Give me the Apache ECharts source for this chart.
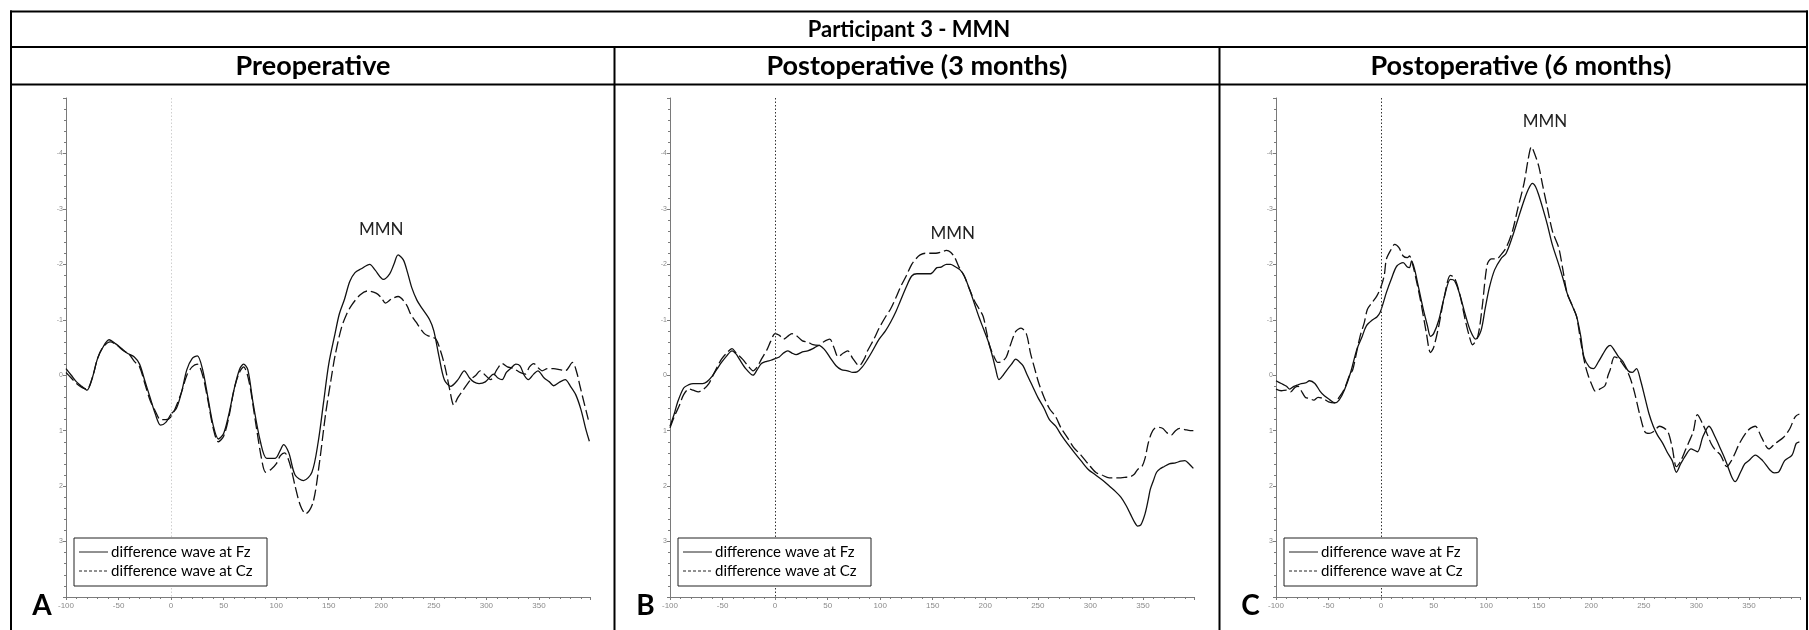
<!DOCTYPE html>
<html>
<head>
<meta charset="utf-8">
<script src="https://cdn.jsdelivr.net/npm/echarts/dist/echarts.min.js"></script>
<style>
html,body{margin:0;padding:0;background:#fff;}
#chart{width:1809px;height:630px;}
</style>
</head>
<body>
<div id="chart"></div>
<script>
// ---------- DATA ----------
const mainTitle = "Participant 3 - MMN";
const panelTitles = ["Preoperative", "Postoperative (3 months)", "Postoperative (6 months)"];
const panelLetters = ["A", "B", "C"];
const legendNames = ["difference wave at Fz", "difference wave at Cz"];
const xTicks = [-100, -50, 0, 50, 100, 150, 200, 250, 300, 350];
const yTicks = [-4, -3, -2, -1, 0, 1, 2, 3];
const mmnA = [200, -2.62];
const mmnB = [169, -2.56];
const mmnC = [156, -4.57];

const fzA = [[-100,-0.12],[-95,0.0],[-90,0.12],[-85,0.2],[-80,0.27],[-75,0.05],[-70,-0.3],[-65,-0.5],[-59,-0.64],[-53,-0.57],[-47,-0.48],[-42,-0.4],[-35,-0.33],[-30,-0.2],[-25,0.1],[-20,0.4],[-15,0.7],[-10,0.9],[-5,0.85],[0,0.7],[5,0.6],[10,0.3],[15,-0.1],[20,-0.3],[25,-0.35],[30,-0.1],[35,0.4],[40,0.9],[45,1.15],[50,1.05],[55,0.7],[60,0.25],[65,-0.1],[69,-0.2],[73,-0.1],[78,0.5],[85,1.2],[91,1.5],[99,1.5],[104,1.35],[107,1.25],[112,1.4],[118,1.8],[126,1.9],[134,1.75],[140,1.2],[145,0.5],[150,-0.2],[156,-0.75],[160,-1.1],[165,-1.37],[170,-1.69],[175,-1.85],[181,-1.92],[189,-2.0],[194,-1.9],[202,-1.73],[208,-1.83],[212,-2.0],[216,-2.17],[221,-2.08],[225,-1.85],[229,-1.58],[234,-1.35],[239,-1.2],[246,-1.0],[250,-0.8],[255,-0.33],[260,0.08],[266,0.2],[273,0.08],[279,-0.08],[284,0.05],[288,0.12],[293,0.15],[299,0.12],[307,-0.02],[311,0.05],[315,0.08],[319,-0.05],[323,-0.12],[328,-0.2],[332,-0.17],[336,0.0],[340,0.08],[345,-0.02],[349,-0.08],[355,0.05],[360,0.12],[364,0.19],[370,0.12],[375,0.08],[380,0.2],[385,0.35],[390,0.62],[395,1.0],[398,1.19]];
const czA = [[-100,-0.05],[-95,0.05],[-90,0.15],[-85,0.22],[-80,0.25],[-75,0.05],[-70,-0.3],[-65,-0.5],[-58,-0.6],[-52,-0.55],[-46,-0.45],[-40,-0.38],[-35,-0.25],[-30,-0.15],[-25,0.15],[-20,0.45],[-15,0.65],[-10,0.8],[-5,0.8],[0,0.75],[5,0.55],[10,0.3],[15,0.0],[20,-0.15],[25,-0.2],[30,0.0],[35,0.45],[40,0.95],[45,1.2],[50,1.1],[55,0.75],[60,0.25],[65,-0.05],[69,-0.15],[74,0.1],[80,0.8],[86,1.5],[90,1.75],[95,1.7],[100,1.6],[104,1.45],[108,1.4],[113,1.6],[118,2.0],[123,2.35],[128,2.5],[135,2.3],[141,1.6],[147,0.7],[152,0.1],[156,-0.35],[162,-0.85],[167,-1.1],[172,-1.27],[180,-1.45],[187,-1.52],[195,-1.48],[200,-1.4],[204,-1.3],[210,-1.38],[216,-1.42],[224,-1.27],[228,-1.1],[233,-0.96],[241,-0.75],[246,-0.7],[252,-0.65],[257,-0.4],[261,-0.12],[265,0.25],[269,0.54],[273,0.4],[277,0.29],[285,0.08],[290,0.0],[294,-0.08],[299,0.0],[304,0.08],[310,-0.1],[315,-0.21],[320,-0.15],[326,-0.12],[332,-0.05],[337,-0.02],[341,-0.15],[345,-0.21],[350,-0.12],[353,-0.08],[358,-0.12],[364,-0.12],[370,-0.1],[375,-0.08],[382,-0.23],[386,-0.05],[389,0.19],[393,0.5],[397,0.8]];

const fzB = [[-100,0.92],[-96,0.7],[-93,0.5],[-87,0.23],[-82,0.17],[-78,0.15],[-73,0.15],[-69,0.15],[-65,0.12],[-60,0.02],[-55,-0.12],[-51,-0.23],[-46,-0.35],[-41,-0.44],[-37,-0.38],[-34,-0.29],[-28,-0.12],[-21,0.0],[-17,-0.1],[-13,-0.21],[-8,-0.25],[-4,-0.27],[0,-0.3],[4,-0.33],[8,-0.4],[12,-0.44],[16,-0.4],[20,-0.37],[26,-0.42],[31,-0.44],[36,-0.48],[42,-0.54],[45,-0.5],[48,-0.44],[53,-0.3],[58,-0.17],[63,-0.1],[69,-0.08],[74,-0.05],[78,-0.06],[83,-0.15],[88,-0.29],[93,-0.45],[99,-0.65],[105,-0.8],[110,-0.96],[115,-1.15],[119,-1.33],[125,-1.6],[130,-1.79],[135,-1.83],[139,-1.83],[144,-1.83],[148,-1.83],[154,-1.94],[158,-1.95],[163,-2.0],[167,-2.0],[171,-1.96],[176,-1.9],[180,-1.79],[185,-1.55],[190,-1.27],[194,-1.05],[198,-0.85],[203,-0.6],[207,-0.33],[210,-0.1],[213,0.08],[217,0.0],[220,-0.08],[225,-0.2],[229,-0.29],[232,-0.25],[236,-0.17],[240,0.0],[245,0.2],[250,0.4],[256,0.6],[261,0.8],[267,0.92],[273,1.1],[278,1.23],[285,1.4],[291,1.54],[298,1.7],[305,1.8],[312,1.9],[318,2.0],[324,2.1],[329,2.2],[334,2.35],[338,2.5],[342,2.65],[345,2.72],[348,2.7],[352,2.5],[355,2.25],[357,2.06],[360,1.9],[363,1.75],[367,1.68],[370,1.65],[375,1.6],[381,1.58],[386,1.55],[390,1.54],[394,1.6],[398,1.68]];
const czB = [[-100,0.95],[-96,0.75],[-91,0.54],[-87,0.35],[-82,0.25],[-78,0.27],[-73,0.3],[-68,0.25],[-63,0.15],[-59,0.0],[-55,-0.15],[-51,-0.29],[-46,-0.4],[-41,-0.48],[-37,-0.4],[-31,-0.29],[-25,-0.15],[-21,-0.08],[-17,-0.15],[-13,-0.29],[-8,-0.45],[-4,-0.62],[0,-0.75],[4,-0.72],[8,-0.65],[12,-0.7],[16,-0.75],[20,-0.72],[26,-0.62],[31,-0.6],[36,-0.55],[42,-0.54],[46,-0.6],[52,-0.65],[56,-0.5],[60,-0.33],[65,-0.4],[69,-0.44],[74,-0.3],[80,-0.17],[85,-0.3],[88,-0.44],[94,-0.65],[99,-0.85],[105,-1.05],[110,-1.2],[115,-1.4],[119,-1.58],[125,-1.8],[130,-2.0],[134,-2.1],[138,-2.17],[143,-2.2],[148,-2.2],[153,-2.2],[158,-2.22],[163,-2.25],[167,-2.22],[171,-2.12],[175,-1.95],[180,-1.79],[185,-1.55],[190,-1.33],[194,-1.2],[198,-1.06],[201,-0.8],[204,-0.54],[208,-0.35],[212,-0.23],[216,-0.25],[220,-0.33],[224,-0.55],[229,-0.79],[234,-0.85],[239,-0.75],[243,-0.4],[247,-0.12],[251,0.15],[256,0.4],[261,0.6],[267,0.75],[272,0.95],[278,1.12],[284,1.3],[291,1.44],[298,1.6],[305,1.75],[311,1.8],[318,1.85],[324,1.85],[329,1.85],[334,1.84],[338,1.83],[342,1.78],[345,1.7],[349,1.65],[352,1.5],[355,1.23],[358,1.05],[361,0.96],[365,0.94],[369,0.96],[373,1.04],[377,1.08],[381,1.0],[385,0.96],[390,0.98],[395,1.0],[398,1.0]];

const fzC = [[-100,0.1],[-95,0.15],[-90,0.2],[-87,0.25],[-83,0.2],[-80,0.18],[-76,0.15],[-72,0.14],[-68,0.1],[-63,0.15],[-58,0.29],[-54,0.37],[-49,0.44],[-44,0.5],[-40,0.45],[-35,0.27],[-29,-0.05],[-23,-0.47],[-18,-0.7],[-14,-0.89],[-8,-1.0],[-4,-1.05],[-1,-1.13],[2,-1.3],[5,-1.49],[10,-1.75],[15,-1.97],[21,-2.03],[25,-1.95],[27,-1.94],[29,-2.06],[32,-1.9],[34,-1.73],[40,-1.2],[44,-0.9],[47,-0.7],[50,-0.75],[55,-1.0],[60,-1.4],[66,-1.73],[70,-1.7],[75,-1.45],[80,-1.1],[85,-0.8],[90,-0.65],[95,-0.8],[99,-1.2],[103,-1.58],[108,-1.9],[114,-2.1],[119,-2.2],[125,-2.5],[130,-2.8],[136,-3.15],[140,-3.35],[144,-3.46],[147,-3.4],[150,-3.25],[154,-3.0],[158,-2.73],[163,-2.35],[169,-2.0],[173,-1.75],[177,-1.48],[182,-1.25],[186,-1.06],[190,-0.7],[193,-0.33],[198,-0.15],[202,-0.12],[207,-0.25],[211,-0.38],[215,-0.5],[218,-0.54],[222,-0.45],[226,-0.33],[230,-0.25],[235,-0.08],[239,-0.05],[243,-0.12],[247,0.1],[251,0.4],[255,0.7],[259,0.92],[263,1.08],[268,1.23],[272,1.38],[277,1.54],[281,1.75],[285,1.6],[290,1.44],[295,1.33],[301,1.38],[306,1.12],[312,0.92],[318,1.12],[323,1.33],[327,1.5],[330,1.65],[334,1.85],[337,1.92],[342,1.75],[346,1.6],[350,1.54],[356,1.44],[363,1.54],[370,1.71],[374,1.76],[378,1.75],[384,1.54],[391,1.44],[395,1.23],[398,1.2]];
const czC = [[-100,0.25],[-95,0.28],[-90,0.27],[-86,0.3],[-82,0.22],[-79,0.2],[-76,0.28],[-72,0.4],[-68,0.42],[-64,0.45],[-60,0.4],[-55,0.42],[-50,0.48],[-45,0.5],[-40,0.4],[-35,0.25],[-30,0.0],[-27,-0.1],[-24,-0.35],[-20,-0.7],[-16,-0.95],[-13,-1.19],[-9,-1.3],[-4,-1.43],[0,-1.6],[3,-1.8],[5,-2.09],[9,-2.25],[13,-2.36],[17,-2.3],[21,-2.15],[25,-2.12],[27,-2.15],[30,-2.0],[34,-1.67],[38,-1.3],[43,-0.77],[47,-0.41],[50,-0.5],[55,-0.9],[60,-1.4],[66,-1.8],[70,-1.75],[75,-1.45],[80,-1.0],[84,-0.7],[87,-0.55],[92,-0.7],[96,-1.2],[101,-2.0],[105,-2.1],[110,-2.1],[114,-2.17],[119,-2.3],[125,-2.6],[130,-3.0],[136,-3.46],[140,-3.9],[143,-4.12],[146,-4.0],[150,-3.77],[154,-3.4],[158,-3.04],[163,-2.6],[169,-2.3],[173,-1.9],[177,-1.48],[182,-1.25],[186,-1.06],[190,-0.6],[194,-0.2],[197,0.0],[200,0.15],[204,0.29],[208,0.25],[213,0.19],[216,0.0],[218,-0.1],[222,-0.33],[226,-0.3],[230,-0.2],[233,-0.12],[237,0.05],[241,0.3],[246,0.7],[251,1.02],[255,1.05],[259,1.02],[265,0.92],[269,0.95],[273,1.02],[277,1.3],[281,1.65],[285,1.55],[290,1.33],[293,1.2],[297,1.02],[301,0.71],[306,0.88],[310,1.05],[314,1.23],[318,1.35],[323,1.44],[329,1.65],[333,1.55],[336,1.44],[341,1.23],[348,1.02],[352,0.95],[356,0.92],[362,1.12],[369,1.33],[375,1.23],[383,1.12],[389,0.96],[394,0.75],[398,0.7]];

// ---------- LAYOUT ----------
const gridLefts = [66, 670, 1276];
const gridTop = 98;
const gridW = 524;
const gridH = 499;
const dividerX = [11, 614.5, 1219.5, 1807];
const titleCenters = [313, 917, 1521];
const zeroLineColors = ['#cfcfcf', '#333', '#333'];
const fontUI = "'Lato', 'Open Sans', 'Liberation Sans', sans-serif";

const panels = [
  {fz: fzA, cz: czA, mmn: mmnA},
  {fz: fzB, cz: czB, mmn: mmnB},
  {fz: fzC, cz: czC, mmn: mmnC}
];

const grids = [], xAxes = [], yAxes = [], series = [], graphics = [];

function txt(x, y, text, font, align) {
  return {type: 'text', x: x, y: y, z: 12,
    style: {text: text, font: font, fill: '#000', align: align, verticalAlign: 'middle',
            textAlign: align, textVerticalAlign: 'middle'}};
}

panels.forEach((p, i) => {
  grids.push({left: gridLefts[i], top: gridTop, width: gridW, height: gridH, containLabel: false, outerBoundsMode: 'none'});
  xAxes.push({
    type: 'value', gridIndex: i, min: -100, max: 398.6, interval: 50,
    axisLine: {show: true, onZero: false, lineStyle: {color: '#7a7a7a', width: 1}},
    axisTick: {show: true, length: 3, inside: false, lineStyle: {color: '#7a7a7a'}},
    minorTick: {show: true, splitNumber: 5, length: 2, lineStyle: {color: '#7a7a7a'}},
    splitLine: {show: false}, minorSplitLine: {show: false},
    axisLabel: {show: true, color: '#8a8a8a', fontSize: 8, margin: 5, fontFamily: 'Liberation Sans',
      showMaxLabel: false,
      formatter: v => (xTicks.indexOf(v) >= 0 ? String(v) : '')}
  });
  yAxes.push({
    type: 'value', gridIndex: i, min: -5, max: 4, interval: 1, inverse: true,
    axisLine: {show: true, onZero: false, lineStyle: {color: '#7a7a7a', width: 1}},
    axisTick: {show: true, length: 3, lineStyle: {color: '#7a7a7a'}},
    minorTick: {show: true, splitNumber: 5, length: 2, lineStyle: {color: '#7a7a7a'}},
    splitLine: {show: false}, minorSplitLine: {show: false},
    axisLabel: {show: true, color: '#8a8a8a', fontSize: 7, margin: 3, fontFamily: 'Liberation Sans',
      showMinLabel: false, showMaxLabel: false,
      formatter: v => (yTicks.indexOf(v) >= 0 ? String(v) : '')}
  });
  series.push({
    type: 'line', name: legendNames[0], xAxisIndex: i, yAxisIndex: i, data: p.fz,
    showSymbol: false, symbol: 'none', smooth: 0.3, z: 3,
    lineStyle: {color: '#111', width: 1.3, type: 'solid'},
    markLine: {
      silent: true, symbol: 'none', label: {show: false},
      lineStyle: {color: zeroLineColors[i], type: [1.5, 2], width: 1},
      data: [{xAxis: 0}]
    },
    markPoint: {
      symbol: 'rect', symbolSize: 1, itemStyle: {color: 'rgba(0,0,0,0)'},
      label: {show: true, position: 'inside', formatter: 'MMN', color: '#222', fontSize: 17, fontFamily: fontUI},
      data: [{coord: p.mmn}]
    }
  });
  series.push({
    type: 'line', name: legendNames[1], xAxisIndex: i, yAxisIndex: i, data: p.cz,
    showSymbol: false, symbol: 'none', smooth: 0.3, z: 3,
    lineStyle: {color: '#111', width: 1.3, type: [11, 4]}
  });

  // legend box
  const lx = gridLefts[i] + 8, ly = 538;
  graphics.push({type: 'rect', z: 10, shape: {x: lx, y: ly, width: 193, height: 48},
    style: {fill: '#fff', stroke: '#222', lineWidth: 1}});
  graphics.push({type: 'line', z: 11, shape: {x1: lx + 5, y1: ly + 14, x2: lx + 34, y2: ly + 14},
    style: {stroke: '#222', lineWidth: 1}});
  graphics.push({type: 'line', z: 11, shape: {x1: lx + 5, y1: ly + 33, x2: lx + 34, y2: ly + 33},
    style: {stroke: '#222', lineWidth: 1, lineDash: [3, 2]}});
  graphics.push(txt(lx + 37, ly + 14, legendNames[0], '15px ' + fontUI, 'left'));
  graphics.push(txt(lx + 37, ly + 33, legendNames[1], '15px ' + fontUI, 'left'));

  // panel title and letter
  graphics.push(txt(titleCenters[i], 66, panelTitles[i], 'bold 27px ' + fontUI, 'center'));
  graphics.push(txt(dividerX[i] + 31, 606, panelLetters[i], 'bold 28px ' + fontUI, 'center'));
});

// table lines
const tl = (x1, y1, x2, y2) => graphics.push({type: 'line', z: 12, shape: {x1, y1, x2, y2}, style: {stroke: '#000', lineWidth: 2}});
tl(10, 11.5, 1808, 11.5);
tl(10, 47, 1808, 47);
tl(10, 84.5, 1808, 84.5);
tl(11, 10.5, 11, 630);
tl(1807, 10.5, 1807, 630);
tl(614.5, 47, 614.5, 630);
tl(1219.5, 47, 1219.5, 630);
graphics.push(txt(909, 29.5, mainTitle, 'bold 22px ' + fontUI, 'center'));

const chart = echarts.init(document.getElementById('chart'), null, {renderer: 'canvas'});
chart.setOption({
  backgroundColor: '#fff',
  animation: false,
  grid: grids, xAxis: xAxes, yAxis: yAxes, series: series,
  graphic: {elements: graphics}
});
</script>
</body>
</html>
